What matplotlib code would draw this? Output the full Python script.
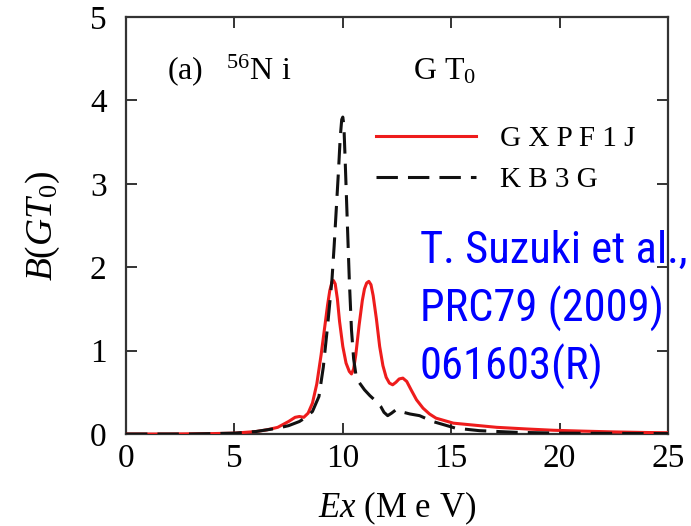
import matplotlib
matplotlib.use("Agg")
import matplotlib.pyplot as plt
from matplotlib import font_manager

# GXPF1J (red, solid)
gx_e = [0.0, 2.0, 4.0, 5.0, 6.0, 6.5, 7.0, 7.5, 7.8, 8.0, 8.2, 8.4, 8.6, 8.8, 9.0,
        9.15, 9.3, 9.4, 9.5, 9.57, 9.65, 9.75, 9.85, 10.0, 10.15, 10.3, 10.4, 10.5,
        10.6, 10.75, 10.9, 11.0, 11.1, 11.2, 11.3, 11.4, 11.55, 11.7, 11.85, 12.0,
        12.15, 12.3, 12.45, 12.6, 12.77, 12.95, 13.15, 13.4, 13.7, 14.0, 14.3, 15.1,
        16.3, 17.1, 18.5, 19.7, 21.0, 22.5, 24.0, 25.0]
gx_b = [0.0, 0.0, 0.005, 0.01, 0.03, 0.05, 0.08, 0.15, 0.2, 0.21, 0.2, 0.25, 0.37,
        0.6, 0.95, 1.25, 1.55, 1.72, 1.82, 1.84, 1.8, 1.62, 1.35, 1.05, 0.85, 0.75,
        0.72, 0.78, 0.95, 1.3, 1.6, 1.74, 1.81, 1.83, 1.79, 1.66, 1.38, 1.05, 0.82,
        0.68, 0.61, 0.59, 0.62, 0.66, 0.67, 0.63, 0.53, 0.41, 0.31, 0.24, 0.19, 0.13,
        0.1, 0.08, 0.06, 0.045, 0.035, 0.025, 0.018, 0.015]

# KB3G (black, dashed)
kb_e = [0.0, 3.0, 5.0, 6.0, 7.0, 7.5, 8.0, 8.3, 8.6, 8.9, 9.1, 9.3, 9.5, 9.6, 9.7,
        9.8, 9.88, 9.95, 10.0, 10.05, 10.1, 10.2, 10.3, 10.4, 10.5, 10.6, 10.75,
        11.0, 11.25, 11.5, 11.75, 11.9, 12.07, 12.25, 12.45, 12.6, 12.8, 13.1, 13.54,
        14.15, 15.2, 16.3, 18.0, 20.0, 25.0]
kb_b = [0.0, 0.0, 0.01, 0.03, 0.07, 0.1, 0.15, 0.2, 0.27, 0.45, 0.8, 1.3, 1.85, 2.25,
        2.7, 3.15, 3.55, 3.77, 3.8, 3.7, 3.35, 2.6, 1.85, 1.25, 0.9, 0.72, 0.62, 0.53,
        0.46, 0.4, 0.33, 0.26, 0.22, 0.25, 0.29, 0.29, 0.26, 0.24, 0.22, 0.15, 0.07,
        0.04, 0.02, 0.01, 0.005]

series_labels = ["G X P F 1 J", "K B 3 G"]
x_ticks = [0, 5, 10, 15, 20, 25]
y_ticks = [0, 1, 2, 3, 4, 5]
ref_lines = ["T. Suzuki et al.,", "PRC79 (2009)", "061603(R)"]

SERIF = "Liberation Serif"
plt.rcParams["font.family"] = [SERIF, "DejaVu Serif"]
plt.rcParams["mathtext.fontset"] = "custom"
plt.rcParams["mathtext.rm"] = SERIF
plt.rcParams["mathtext.it"] = SERIF + ":italic"

installed = {f.name for f in font_manager.fontManager.ttflist}
ref_font, ref_size = "Roboto", 29
for name, size in [("Liberation Sans Narrow", 32), ("Roboto Condensed", 32)]:
    if name in installed:
        ref_font, ref_size = name, size
        break

W, H = 691, 526
fig = plt.figure(figsize=(W / 100, H / 100), dpi=100)
ax = fig.add_axes([126 / W, 1 - 434 / H, 542 / W, 417 / H])

ax.plot(gx_e, gx_b, color="#ee1c1c", lw=2.2, label=series_labels[0], zorder=3)
ax.plot(kb_e, kb_b, color="#111111", lw=2.2, linestyle=(0, (7, 3.3)),
        label=series_labels[1], zorder=4)

ax.set_xlim(0, 25)
ax.set_ylim(0, 5)
ax.set_xticks(x_ticks)
ax.set_yticks(y_ticks)
ax.tick_params(direction="in", length=8, width=1.4, color="#333333",
               top=True, right=True, labelsize=24)
ax.tick_params(axis="x", pad=7)
ax.tick_params(axis="y", pad=14)
for s in ax.spines.values():
    s.set_linewidth(1.6)
    s.set_color("#333333")

ax.set_xlabel(r"$Ex$ (M e V)", fontsize=25, labelpad=11)
ax.set_ylabel(r"$B(GT_{\mathit{0}})$", fontsize=27, labelpad=20)

ax.legend(loc="upper left", bbox_to_anchor=(0.462, 0.74), frameon=False,
          fontsize=21, handlelength=3.4, handletextpad=0.85, labelspacing=0.5,
          borderaxespad=0, borderpad=0)

ax.text(0.075, 0.85, r"(a)   $^{56}$N i", transform=ax.transAxes, fontsize=23,
        va="baseline")
ax.text(0.53, 0.85, r"G T$_{0}$", transform=ax.transAxes, fontsize=23,
        va="baseline")

for i, line in enumerate(ref_lines):
    fig.text(420 / W, 1 - (263 + 58.5 * i) / H, line, color="#0000ff",
             family=ref_font, fontsize=ref_size, va="baseline", ha="left")

fig.savefig("out.png", dpi=100)
